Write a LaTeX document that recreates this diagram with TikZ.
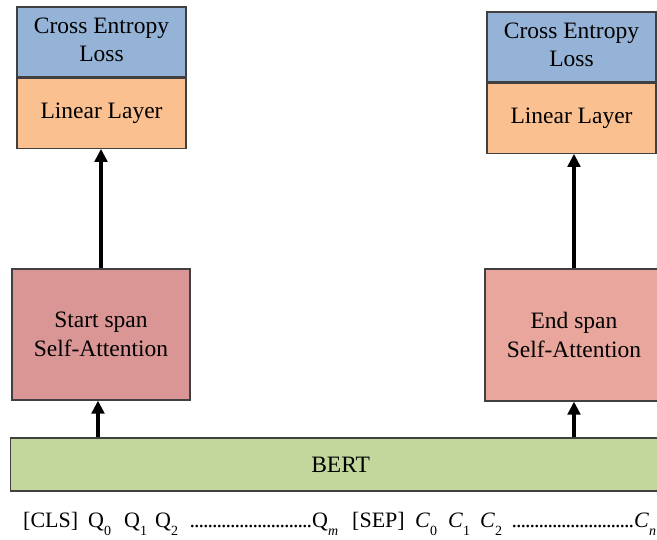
\documentclass[tikz,border=0pt]{standalone}
\usepackage{fontspec}
\setmainfont{Liberation Serif}
\usetikzlibrary{arrows.meta}
\definecolor{lossblue}{HTML}{95B3D7}
\definecolor{linorange}{HTML}{FAC090}
\definecolor{startred}{HTML}{D99694}
\definecolor{endred}{HTML}{E8A69D}
\definecolor{bertgreen}{HTML}{C3D69B}
\definecolor{edgegray}{HTML}{404040}
\newcommand{\tokbox}[2]{\makebox[#1pt][l]{#2}}
\newcommand{\dotrun}[1]{\hbox to #1pt{\leaders\hbox to 4.5pt{\hss.\hss}\hfil}}
\newcommand{\lowsub}[1]{\raisebox{-0.32em}{\fontsize{14}{14}\selectfont #1}}
\begin{document}
\begin{tikzpicture}[x=1pt,y=-1pt,
  box/.style={draw=edgegray, line width=1.2pt, inner sep=0pt, align=center,
    font=\fontsize{23.5}{28.5}\selectfont},
  arr/.style={line width=4pt, -{Triangle[width=12.5pt,length=13pt]}}]
\useasboundingbox (0,0) rectangle (657,540);
\clip (0,0) rectangle (657,540);
% left stack
\node[box, fill=lossblue, minimum width=169pt, minimum height=70pt] (lossL) at (101.5,42) {Cross Entropy\\Loss\vphantom{p}};
\node[box, fill=linorange, minimum width=169pt, minimum height=70pt, anchor=north] (linL) at (lossL.south) {Linear Layer};
% right stack
\node[box, fill=lossblue, minimum width=169pt, minimum height=70pt] (lossR) at (571.5,47) {Cross Entropy\\Loss\vphantom{p}};
\node[box, fill=linorange, minimum width=169pt, minimum height=70pt, anchor=north] (linR) at (lossR.south) {Linear Layer};
% attention boxes
\node[box, fill=startred, minimum width=178pt, minimum height=131pt] (startA) at (101,334.5) {Start span\\Self-Attention};
\node[box, fill=endred, minimum width=178pt, minimum height=132pt] (endA) at (574,335) {End span\\Self-Attention};
% BERT
\node[box, fill=bertgreen, minimum width=660pt, minimum height=53pt, anchor=west] (bert) at (10,464.5) {BERT};
% arrows
\draw[arr] (startA.north) -- (startA.north |- linL.south);
\draw[arr] (endA.north) -- (endA.north |- linR.south);
\draw[arr] (bert.north -| 98,0) -- (startA.south -| 98,0);
\draw[arr] (bert.north -| endA.south) -- (endA.south);
% input sequence
\node[anchor=base west, inner sep=0pt, font=\fontsize{22}{24}\selectfont] (seq) at (23,528)
  {\tokbox{65}{[CLS]}\tokbox{36}{Q\lowsub{0}}\tokbox{31}{Q\lowsub{1}}\tokbox{35}{Q\lowsub{2}}\dotrun{122}\tokbox{40}{Q\lowsub{\textit{m}}}\tokbox{63}{[SEP]}\tokbox{33}{\textit{C}\lowsub{0}}\tokbox{32}{\textit{C}\lowsub{1}}\tokbox{32}{\textit{C}\lowsub{2}}\dotrun{122}\textit{C}\lowsub{\textit{n}}};
\end{tikzpicture}
\end{document}
